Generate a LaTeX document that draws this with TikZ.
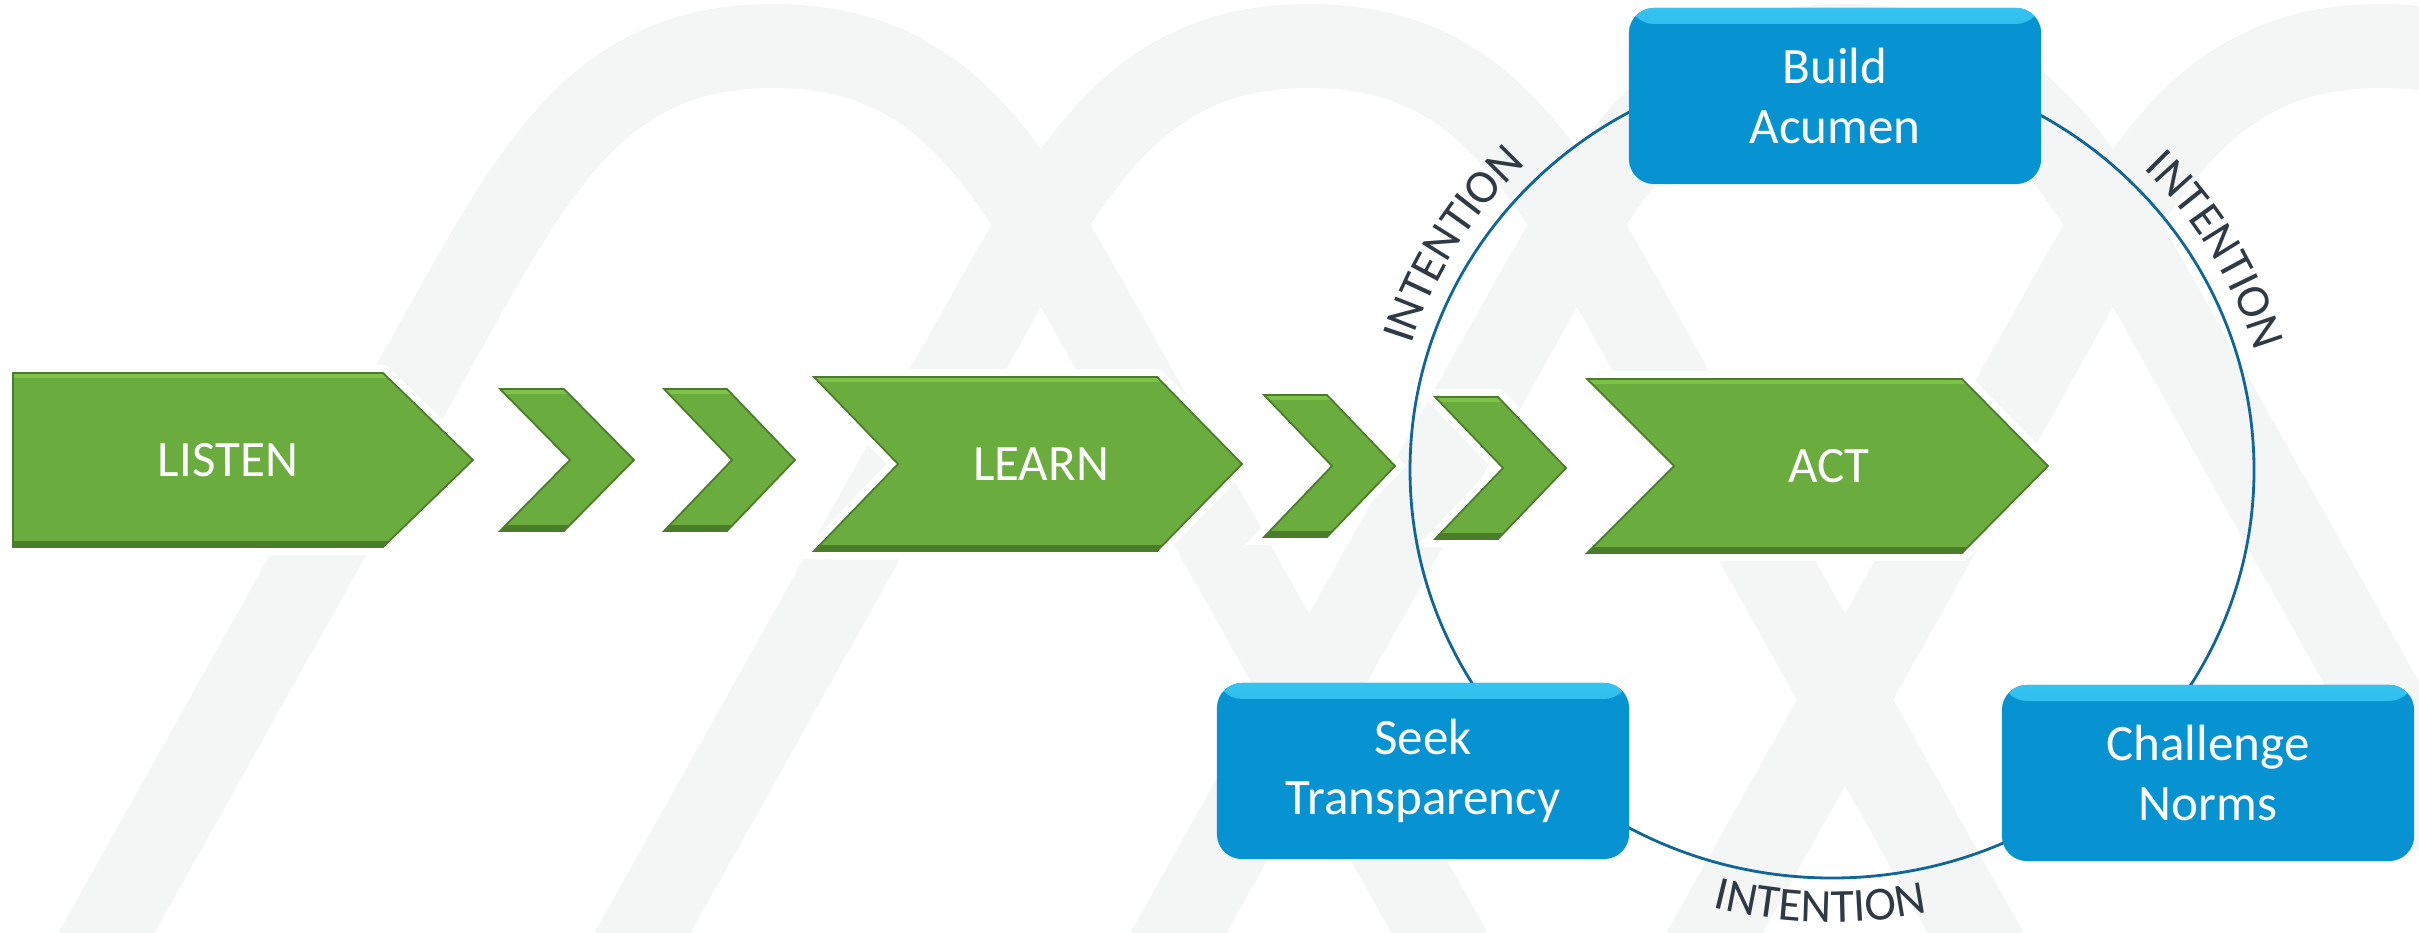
\documentclass[tikz,border=0pt]{standalone}
\usepackage{fontspec}
\setmainfont{Carlito}
\usetikzlibrary{decorations.text}

\definecolor{wave}{RGB}{244,246,246}
\definecolor{leaf}{RGB}{106,172,61}
\definecolor{leafdark}{RGB}{74,124,42}
\definecolor{leaflight}{RGB}{126,194,74}
\definecolor{sky}{RGB}{7,147,210}
\definecolor{skylight}{RGB}{64,208,248}
\definecolor{ringline}{RGB}{16,102,152}
\definecolor{slate}{RGB}{48,58,68}

\newcommand\stagefont{\fontsize{14.5}{17}\selectfont}
\newcommand\loopfont{\fontsize{13.5}{16}\selectfont}

\tikzset{
  band/.style={draw=wave, line width=0.84cm},
  greenarrow/.style={fill=leaf, draw=leafdark, line width=0.5pt,
    preaction={draw=white, line width=0.16cm},
    path picture={
      \fill[leaflight] ([yshift=-0.05cm]path picture bounding box.north west)
        rectangle (path picture bounding box.north east);
      \fill[leafdark] (path picture bounding box.south west)
        rectangle ([yshift=0.06cm]path picture bounding box.south east);}},
  stagetext/.style={text=white, font=\stagefont, inner sep=0pt},
  bluebox/.style={rectangle, rounded corners=0.25cm, fill=sky,
    minimum width=4.12cm, minimum height=1.76cm, inner sep=0pt,
    align=center, text=white, font=\stagefont,
    path picture={
      \shade[top color=skylight!80!sky, bottom color=sky]
        (path picture bounding box.north west)
        rectangle ([yshift=-0.16cm]path picture bounding box.north east);}},
  ring/.style={draw=ringline, line width=0.8pt},
  intention/.style={decorate, decoration={text along path, text align=center,
    text color=slate, text={|\loopfont|INTENTION}}}
}

\begin{document}
\begin{tikzpicture}[x=0.01cm, y=0.01cm]
\useasboundingbox (0,0) rectangle (2419,932);
\clip (0,0) rectangle (2419,932);

% arches behind everything
\foreach \p in {773,1309,1845,2381}
  \draw[band] (\p-694,-50) -- (\p-329,602)
    .. controls (\p-234,772) and (\p-170,886) .. (\p,886)
    .. controls (\p+170,886) and (\p+234,772) .. (\p+329,602)
    -- (\p+694,-50);

% the three stages and the chevrons between them
\path[greenarrow] (13,559)--(383,559)--(473,472)--(383,385)--(13,385)--cycle;
\path[greenarrow] (500,543)--(564,543)--(634,472)--(564,401)--(500,401)--(570,472)--cycle;
\path[greenarrow] (664,543)--(727,543)--(795,472)--(727,401)--(664,401)--(732,472)--cycle;
\path[greenarrow] (814,555)--(1157,555)--(1242,468)--(1157,381)--(814,381)--(898,468)--cycle;
\path[greenarrow] (1264,537)--(1327,537)--(1395,466)--(1327,395)--(1264,395)--(1332,466)--cycle;
\path[greenarrow] (1435,535)--(1498,535)--(1566,464)--(1498,393)--(1435,393)--(1503,464)--cycle;
\path[greenarrow] (1587,553)--(1962,553)--(2048,466)--(1962,379)--(1587,379)--(1674,466)--cycle;

\node[stagetext] (listen) at (228,472) {LISTEN};
\node[stagetext] (learn) at (1041,468) {LEARN};
\node[stagetext] (act) at (1829,466) {ACT};

% loop round ACT
\coordinate (hub) at (1832,462);
\draw[ring] (hub) ellipse [x radius=422, y radius=408];

\node[bluebox] (acumen) at (1835,836) {Build\\Acumen};
\node[bluebox] (seek) at (1423,161) {Seek\\Transparency};
\node[bluebox] (norms) at (2208,159) {Challenge\\Norms};

\path[intention] ([shift={(165:440 and 426)}]hub)
  arc [start angle=165, end angle=132, x radius=440, y radius=426];
\path[intention] ([shift={(47:440 and 426)}]hub)
  arc [start angle=47, end angle=14, x radius=440, y radius=426];
\path[intention] ([shift={(253:467 and 452)}]hub)
  arc [start angle=253, end angle=284, x radius=467, y radius=452];
\end{tikzpicture}
\end{document}
